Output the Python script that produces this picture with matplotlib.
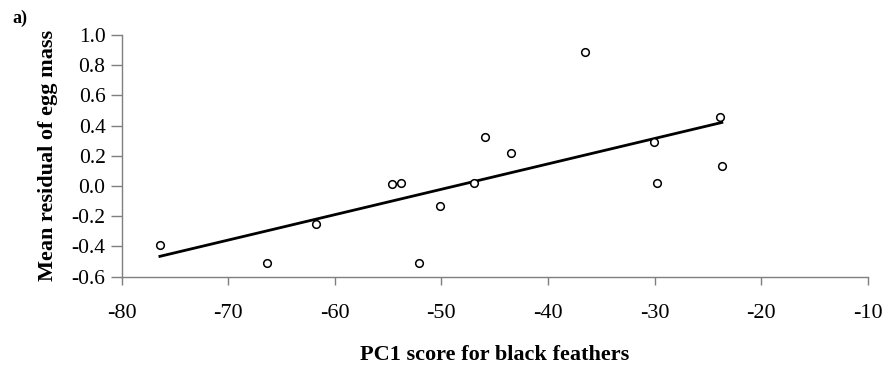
import numpy as np
import matplotlib
matplotlib.use("Agg")
import matplotlib.pyplot as plt

plt.rcParams['font.family'] = ['Liberation Serif', 'DejaVu Serif']

# Data
pc1 = [-76.4, -66.4, -61.8, -54.6, -53.8, -52.1, -50.1, -46.9, -45.9, -43.5,
       -36.5, -30.1, -29.8, -23.9, -23.7]
egg_resid = [-0.39, -0.51, -0.25, 0.01, 0.02, -0.51, -0.13, 0.02, 0.325, 0.22,
             0.89, 0.29, 0.02, 0.457, 0.13]
x_ticks = [-80, -70, -60, -50, -40, -30, -20, -10]
y_ticks = [-0.6, -0.4, -0.2, 0.0, 0.2, 0.4, 0.6, 0.8, 1.0]

fig = plt.figure(figsize=(8.87, 3.67), dpi=100)
ax = fig.add_axes([0.137, 0.2463, 0.8415, 0.6583])

x = np.array(pc1)
y = np.array(egg_resid)
slope, intercept = np.polyfit(x, y, 1)
xl = np.array([x.min(), x.max()])
ax.plot(xl, slope * xl + intercept, color='black', lw=2.0, zorder=2)
ax.plot(x, y, linestyle='none', marker='o', markersize=5.5, markerfacecolor='white',
        markeredgecolor='black', markeredgewidth=1.1, zorder=3)

ax.set_xlim(-80, -10)
ax.set_ylim(-0.6, 1.0)
ax.set_xticks(x_ticks)
ax.set_yticks(y_ticks)
ax.set_xticklabels([f"{v}" for v in x_ticks])
ax.set_yticklabels([f"{v:.1f}" for v in y_ticks])

for s in ['top', 'right']:
    ax.spines[s].set_visible(False)
for s in ['left', 'bottom']:
    ax.spines[s].set_color('#7f7f7f')
    ax.spines[s].set_linewidth(1.0)
ax.tick_params(axis='both', direction='out', width=1.0, color='#7f7f7f', labelcolor='black')
ax.tick_params(axis='x', length=5.8, pad=14, labelsize=16)
ax.tick_params(axis='y', length=8.0, pad=3.5, labelsize=15.5)

ax.set_xlabel('PC1 score for black feathers', fontsize=16, fontweight='bold', labelpad=16)
ax.set_ylabel('Mean residual of egg mass', fontsize=16, fontweight='bold', labelpad=10)
fig.text(0.0143, 1 - 23.3 / 367, 'a)', fontsize=13, fontweight='bold', ha='left', va='baseline')

fig.savefig('out.png', dpi=100)
